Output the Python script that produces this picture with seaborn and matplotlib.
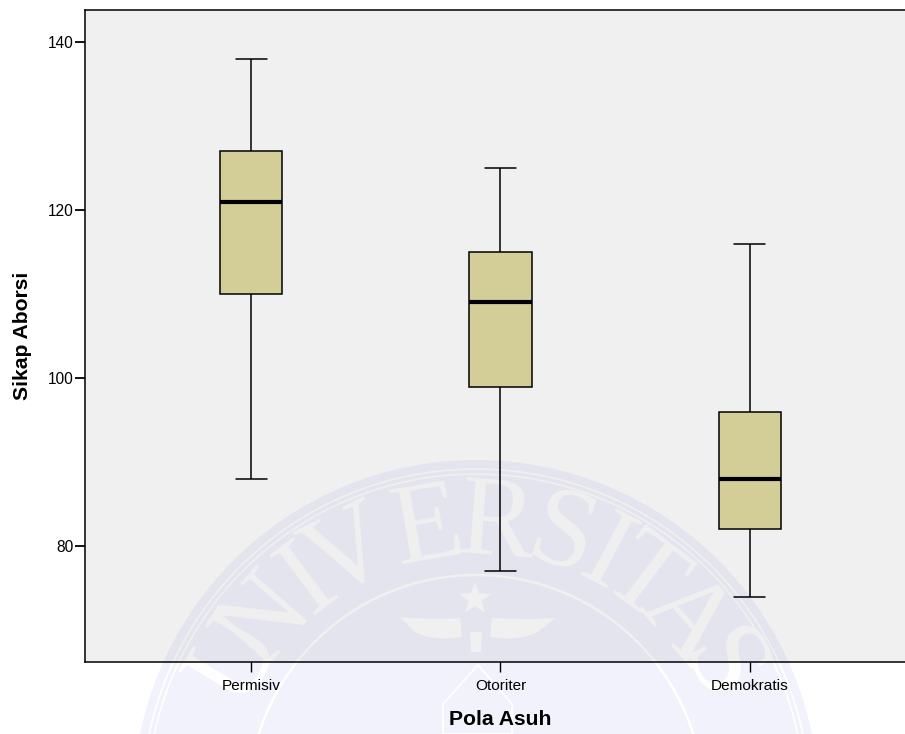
import numpy as np
import pandas as pd
import matplotlib
matplotlib.use("Agg")
import matplotlib.pyplot as plt
from matplotlib.patches import Circle, PathPatch, Polygon
from matplotlib.path import Path
from matplotlib.transforms import Affine2D
import seaborn as sns

# five number summaries (min, q1, median, q3, max)
categories = ["Permisiv", "Otoriter", "Demokratis"]
permisiv = [88, 110, 121, 127, 138]
otoriter = [77, 99, 109, 115, 125]
demokratis = [74, 82, 88, 96, 116]
y_ticks = [80, 100, 120, 140]

data = pd.DataFrame({
    "Pola Asuh": np.repeat(categories, 5),
    "Sikap Aborsi": permisiv + otoriter + demokratis,
})

sns.set_style("ticks")
plt.rcParams["font.family"] = ["Liberation Sans", "DejaVu Sans"]
plt.rcParams["text.color"] = "black"
plt.rcParams["axes.labelcolor"] = "black"

W, H = 905, 734
fig = plt.figure(figsize=(W / 100, H / 100), dpi=100)
ax = fig.add_axes([85 / W, 1 - 662.3 / H, 822 / W, 652.8 / H])
ax.set_facecolor("#f0f0f0")
ax.set_axisbelow("line")

sns.boxplot(
    data=data, x="Pola Asuh", y="Sikap Aborsi", order=categories, ax=ax,
    color="#d3ce97", saturation=1, width=0.25, whis=(0, 100), linecolor="black",
    linewidth=1.1, medianprops={"linewidth": 3, "color": "black"},
)

ax.set_xlim(-0.667, 2.631)
ax.set_ylim(66.2, 143.84)
ax.set_yticks(y_ticks)
ax.tick_params(axis="y", length=7.2, width=1.3, labelsize=11.2, pad=1, colors="black")
ax.tick_params(axis="x", length=7.2, width=1.0, labelsize=11.1, pad=4.5, colors="black")
ax.set_xlabel("Pola Asuh", fontsize=15.2, fontweight="bold", va="center")
ax.set_ylabel("Sikap Aborsi", fontsize=15.2, fontweight="bold", va="center")
ax.xaxis.set_label_coords(415 / 822, -57 / 652.8)
ax.yaxis.set_label_coords(-62 / 822, 0.5)
for side in ["top", "right", "left", "bottom"]:
    ax.spines[side].set_visible(True)
    ax.spines[side].set_linewidth(1.1)
    ax.spines[side].set_color("black")

# faint university seal behind the chart, placed in image pixels
px = Affine2D().scale(1, -1).translate(0, H)
cx, cy = 476, 803
seal_letters = "UNIVERSITAS"
seal_angles = [-59, -49, -37, -27, -10, 4.4, 18, 28, 37, 49, 61]
tint = (60 / 255, 60 / 255, 220 / 255, 0.065)


def seal_marks(light):
    marks = []
    for r, lw in [(334, 1.2), (329, 1.2), (228, 1.8)]:
        marks.append(Circle((cx, cy), r, fill=False, ec=light, lw=lw, transform=px))
    codes = [Path.MOVETO, Path.CURVE3, Path.CURVE3, Path.LINETO, Path.CURVE3, Path.CURVE3, Path.CLOSEPOLY]
    wing_l = Path([(400, 617), (430, 620), (460, 618), (462, 637), (435, 642), (415, 632), (400, 617)], codes)
    wing_r = Path([(555, 618), (525, 620), (492, 618), (490, 637), (517, 642), (538, 632), (555, 618)], codes)
    marks.append(PathPatch(wing_l, fc=light, ec="none", transform=px))
    marks.append(PathPatch(wing_r, fc=light, ec="none", transform=px))
    marks.append(Polygon([(470, 632), (482, 632), (481, 652), (471, 652)], fc=light, ec="none", transform=px))
    marks.append(Polygon([(478, 665), (443, 704), (443, 734), (512, 734), (512, 704)], fill=False, ec=light,
                         lw=1.3, transform=px))
    star = np.arange(10) * np.pi / 5
    star_r = np.where(np.arange(10) % 2 == 0, 17, 7)
    marks.append(Polygon(np.c_[475 + star_r * np.sin(star), 599 - star_r * np.cos(star)], fc=light, ec="none",
                         transform=px))
    return marks


def seal_text(host, light, zorder):
    labels = []
    for letter, ang in zip(seal_letters, seal_angles):
        a = np.deg2rad(ang)
        labels.append(host.text(cx + 277 * np.sin(a), cy - 277 * np.cos(a), letter, transform=px, color=light,
                                family="Liberation Serif", fontsize=82, rotation=-ang, rotation_mode="anchor",
                                ha="center", va="center", zorder=zorder))
    return labels


# tint and white marks on the page, under the axes
fig.add_artist(Circle((cx, cy), 343, fc=tint, ec="none", transform=px, zorder=-2))
for mark in seal_marks("white"):
    mark.set_zorder(-1)
    fig.add_artist(mark)
seal_text(fig, "white", -1)

# same seal again on the grey plot area
disc = Circle((cx, cy), 343, fc=tint, ec="none", transform=px, zorder=0.5)
ax.add_patch(disc)
disc.set_clip_path(ax.patch)
for mark in seal_marks("#f0f0f0"):
    mark.set_zorder(0.6)
    ax.add_patch(mark)
    mark.set_clip_path(ax.patch)
for label in seal_text(ax, "#f0f0f0", 0.6):
    label.set_clip_on(True)
    label.set_clip_path(ax.patch)

fig.savefig("out.png", dpi=100, facecolor="white")
